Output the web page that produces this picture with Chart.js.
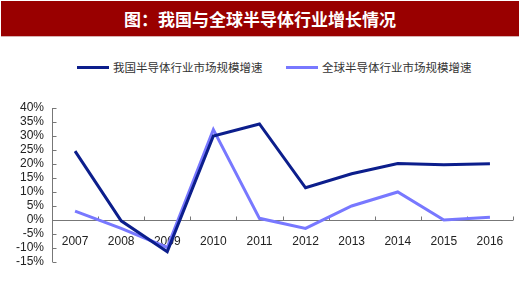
<!DOCTYPE html>
<html><head><meta charset="utf-8">
<script src="https://cdn.jsdelivr.net/npm/chart.js@4/dist/chart.umd.min.js"></script>
<style>
body{margin:0;background:#fff;width:520px;height:293px;position:relative;overflow:hidden;font-family:"Noto Sans CJK SC",sans-serif}
#title{position:absolute;left:1px;top:1px;width:518px;height:35px;background:#990000;color:#fff;font-weight:bold;font-size:17px;line-height:35px;text-align:center;border-bottom:1px solid #d8b0b0}
.lg{position:absolute;top:59px;font-size:11.5px;color:#333;line-height:16px;white-space:nowrap}
.lg i{display:inline-block;width:32px;height:3px;vertical-align:middle;margin-right:4px;position:relative;top:-1px}
canvas{position:absolute;left:0;top:0}
</style></head>
<body>
<div id="title">图：我国与全球半导体行业增长情况</div>
<div class="lg" style="left:77px"><i style="background:#0c1e8c"></i>我国半导体行业市场规模增速</div>
<div class="lg" style="left:286px"><i style="background:#7878ff"></i>全球半导体行业市场规模增速</div>
<canvas id="c" width="520" height="293"></canvas>
<script>
const years = ['2007','2008','2009','2010','2011','2012','2013','2014','2015','2016'];
const chinaGrowth = [24.6, -0.3, -11.3, 30.0, 34.3, 11.5, 16.5, 20.2, 19.7, 20.1];
const globalGrowth = [3.2, -3.0, -9.8, 32.3, 0.6, -3.0, 5.0, 10.0, 0.0, 1.0];
const seriesNames = ['我国半导体行业市场规模增速','全球半导体行业市场规模增速'];

const axisPlugin = {
  id:'axisMarks',
  beforeDatasetsDraw(chart){
    const ctx = chart.ctx, x = chart.scales.x, y = chart.scales.y;
    ctx.save();
    ctx.strokeStyle = '#777'; ctx.lineWidth = 1;
    ctx.beginPath();
    const lx = Math.round(x.left)+0.5;
    ctx.moveTo(lx, y.top); ctx.lineTo(lx, y.bottom);
    y.ticks.forEach(t=>{ const py = Math.round(y.getPixelForValue(t.value))+0.5; ctx.moveTo(lx, py); ctx.lineTo(lx+4, py); });
    const y0 = Math.round(y.getPixelForValue(0))+0.5;
    ctx.moveTo(x.left, y0); ctx.lineTo(x.right, y0);
    for(let i=0;i<=years.length;i++){
      const px = Math.round(x.getPixelForValue(i-0.5))+0.5;
      ctx.moveTo(px, y0); ctx.lineTo(px, y0-4);
    }
    ctx.stroke();
    ctx.restore();
  }
};

new Chart(document.getElementById('c'), {
  type:'line',
  data:{labels:years, datasets:[
    {label:seriesNames[0], data:chinaGrowth, borderColor:'#0c1e8c', borderWidth:3, pointRadius:0, tension:0, fill:false},
    {label:seriesNames[1], data:globalGrowth, borderColor:'#7878ff', borderWidth:3, pointRadius:0, tension:0, fill:false}
  ]},
  options:{
    responsive:false, animation:false,
    layout:{padding:{top:108,bottom:31,left:0,right:7}},
    plugins:{legend:{display:false}, tooltip:{enabled:false}},
    scales:{
      x:{type:'category', position:{y:0}, offset:true,
        grid:{display:false, offset:true},
        border:{display:false},
        ticks:{color:'#222', font:{family:'"Liberation Sans", Arial', size:12}, padding:6, maxRotation:0, autoSkip:false}},
      y:{min:-15, max:40,
        afterFit(s){ s.width = 52; },
        grid:{display:false, drawTicks:false},
        border:{display:false},
        ticks:{stepSize:5, autoSkip:false, padding:8, color:'#222', font:{family:'"Liberation Sans", Arial', size:12}, callback:v=>v+'%'}}
    }
  },
  plugins:[axisPlugin]
});
</script>
</body></html>
